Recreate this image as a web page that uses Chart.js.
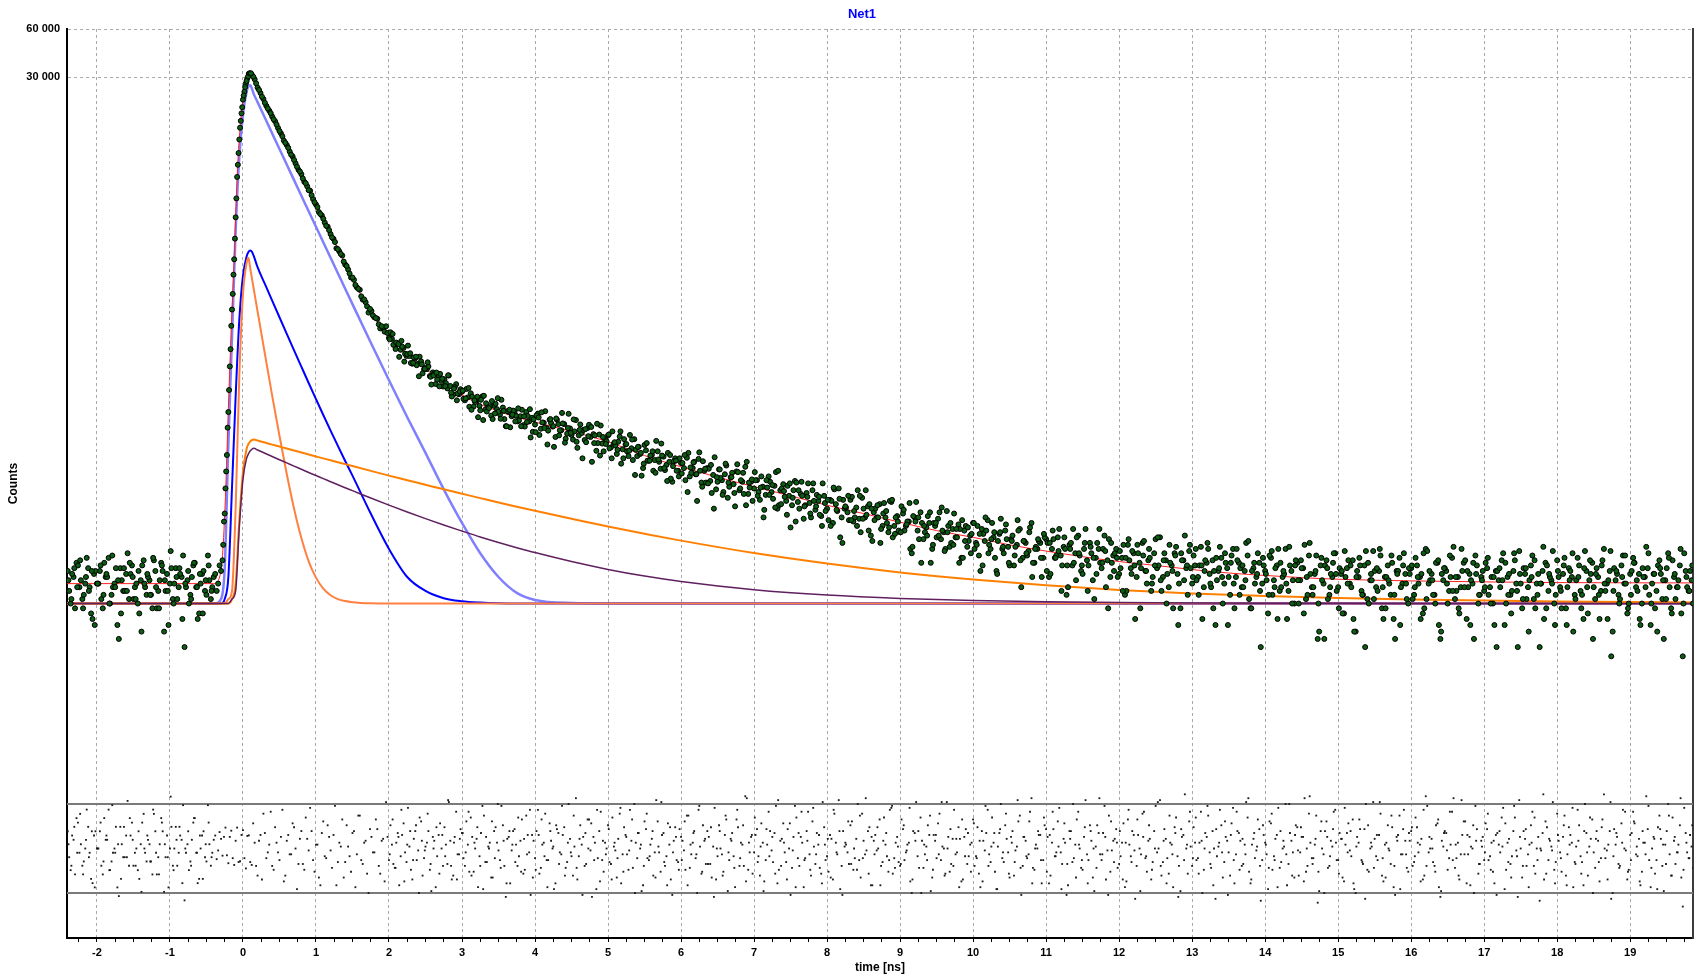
<!DOCTYPE html>
<html>
<head>
<meta charset="utf-8">
<script src="https://cdn.jsdelivr.net/npm/chart.js@4.4.1/dist/chart.umd.min.js"></script>
<style>
html,body{margin:0;padding:0;background:#fff;overflow:hidden}
canvas{display:block}
</style>
</head>
<body>
<canvas id="c" width="1706" height="975" style="width:1706px;height:975px"></canvas>
<script>
// ---------- texts ----------
const chartTitle = 'Net1';
const xAxisTitle = 'time [ns]';
const yAxisTitle = 'Counts';

// ---------- ticks ----------
const xTickValues = [-2,-1,0,1,2,3,4,5,6,7,8,9,10,11,12,13,14,15,16,17,18,19];
const xMinorStep = 0.25;
const yTickValues = [30000, 60000];
const yTickLabels = ['30 000', '60 000'];

// ---------- measured decay, channel set A ----------
const dataStep = 0.04;      // ns between channels of one set
const dataStartA = -2.40;
const dataCountsA = [
24,15,22,27,19,16,20,25,13,23,20,24,14,22,29,17,20,11,25,18,23,16,26,19,15,21,28,17,21,14,24,18,27,10,23,20,16,25,19,22,8,21,17,26,19,13,23,18,30,16,
22,18,26,28,79,238,826,2160,7090,14420,21640,27330,31420,31050,
29050,25770,23800,21840,19780,18460,16980,15840,14390,13300,11980,11240,10230,9530,8630,7870,7380,6610,6190,5810,5150,4760,4270,4070,3670,3460,3110,2900,2530,2420,2280,2000,1865,1660,1605,1440,1390,1207,1163,1000,1024,934,915,796,803,821,694,684,625,642,585,601,535,534,478,517,478,495,440,443,400,422,357,399,373,382,335,347,306,356,308,319,282,294,312,258,280,260,299,247,256,226,260,248,230,254,194,238,224,239,208,224,197,238,208,219,199,
233,187,204,189,213,193,166,200,183,200,174,188,160,212,170,176,159,189,166,173,136,172,151,161,170,
143,151,130,167,139,149,126,141,161,126,130,106,
137,118,128,119,135,105,125,111,116,87,122,102,
114,106,123,94,106,97,121,86,102,106,88,96,78,
104,89,97,69,93,84,101,77,87,108,73,87,79,
89,67,81,72,94,75,82,59,77,84,66,71,
62,88,65,73,51,74,64,77,58,66,53,71,59,
67,48,63,79,52,59,56,67,49,60,51,69,
52,61,40,56,52,63,46,52,42,65,46,53,42,
55,46,49,31,52,43,56,38,45,48,33,46,
51,38,42,57,34,44,39,47,29,43,34,40,48,
36,30,44,37,50,33,39,24,41,33,43,34,
38,26,35,44,29,36,32,48,27,33,36,29,38,
22,33,29,39,30,34,17,35,26,31,40,24,
33,28,36,21,29,33,25,40,28,22,30,33,23,
29,17,35,25,31,22,27,36,24,28,18,31,
25,39,22,28,19,26,31,23,14,28,25,32,20,
26,22,34,19,27,23,28,11,24,29,20,25,
17,33,22,27,19,24,30,14,25,22,27,20,24,
13,29,21,26,18,22,33,18,24,15,27,21,25,16,30,19,23,9,26,20,28,17,22,31,19,
23,13,25,20,28,10,22,18,26,16,21,32,19,24,14,22,26,17,12,24,29,20,23,15,25,
17,26,22,13,33,20,23,17,27,9,21,24,18,29,16,22,19,27,12,23,20,30,15,22,18,
25,19,15,24,21,28,11,22,17,24,20,32,14,23,19,26,16,20,8,24,27,18,21,15,28,
19,23,14,25,22,17,29,18,12,24,21,27,16,22,18,33,20,24,10,21,17,26,20,13,23,29,19,23,15,22,25,11,23,18,28,16,21,31,14,22,19,26,7,24,18,21
];
// ---------- channel set B ----------
const dataStartB = -2.38;
const dataCountsB = [
18,23,14,26,21,17,29,19,12,24,20,16,27,22,15,19,25,9,21,18,31,23,16,20,13,26,19,22,17,28,14,21,24,18,11,25,20,16,23,30,19,15,22,27,12,20,24,17,21,
19,23,20,24,49,128,460,1310,3960,10010,17750,24250,29450,31580,
30180,27390,24900,22560,20680,19050,17800,16300,15110,13760,12750,11600,10790,9770,9060,8220,7660,6940,6470,5860,5450,4920,4590,4150,3880,3500,3290,2960,2770,2500,2330,2090,1960,1760,1660,1490,1410,1265,1210,1095,1055,960,925,845,822,760,745,
753,628,649,528,612,552,621,483,523,468,529,416,450,460,354,415,380,413,344,361,403,298,341,311,331,
288,332,257,297,275,221,284,301,240,259,215,268,239,284,215,241,191,243,226,211,246,193,225,165,214,
227,171,205,241,182,203,144,213,183,202,162,232,171,180,142,199,184,154,198,116,170,152,196,135,156,
141,180,147,155,113,161,135,171,119,138,144,95,148,118,127,102,157,116,127,103,132,91,117,102,122,
114,89,132,99,116,66,102,117,86,105,74,124,87,92,75,110,81,99,61,100,89,73,116,80,66,
89,75,94,58,80,87,68,100,62,79,70,82,45,77,86,59,71,62,85,52,66,72,54,85,57,
50,66,78,57,39,67,60,50,70,52,77,42,59,54,63,37,59,52,44,64,48,66,39,52,43,
61,43,49,33,53,65,38,48,42,53,27,48,39,56,43,33,46,36,55,39,44,29,46,37,41,
33,46,24,41,43,35,48,29,37,51,31,38,26,40,34,43,19,37,30,45,27,34,37,22,39,
36,23,38,30,44,26,33,19,36,27,39,30,23,44,26,31,16,36,27,33,19,38,27,31,22,
25,35,18,28,32,12,31,25,37,20,29,22,38,26,18,31,23,27,14,34,20,28,40,17,25,
30,21,26,12,28,33,19,24,21,34,15,27,22,30,14,28,25,19,36,16,24,20,31,8,26,
21,30,17,25,33,19,23,12,26,21,28,15,25,35,17,23,19,30,10,21,26,16,23,31,18,
25,13,22,28,19,10,24,26,17,32,15,21,24,18,30,12,22,20,27,9,24,19,31,16,23,
16,29,20,23,14,32,21,17,27,11,23,25,15,22,34,18,13,24,28,19,21,9,26,17,24,
27,17,22,11,24,19,31,15,23,18,28,8,20,25,16,21,30,14,23,20,12,26,22,32,17,
22,14,29,19,24,10,21,26,17,32,13,23,19,25,12,28,18,21,7,25,23,16,30,20,15,24,27,18,11,22,34,17,20,14,26,23,9,25,19,28,16,21,13,31,19,24,15
];
// ---------- channel set C (tail, from 2.01 ns) ----------
const dataStartC = 2.01;
const dataCountsC = [
680,735,591,635,665,493,549,556,484,529,399,474,444,488,396,404,421,345,385,346,405,315,334,282,320,
324,290,337,246,282,297,244,212,270,252,279,233,291,216,242,194,246,229,208,251,194,224,206,248,179,
178,220,237,189,149,215,194,217,170,235,153,189,176,214,155,184,122,186,168,192,152,201,127,166,150,
172,122,154,138,180,122,150,136,160,96,144,132,113,152,118,135,99,120,151,106,88,128,109,118,94,
98,128,75,107,115,97,133,81,105,85,111,59,93,104,72,113,86,93,74,112,79,99,62,86,90,
100,71,80,52,89,72,83,60,102,63,76,54,85,69,49,77,87,61,70,55,85,61,70,46,64,
67,46,80,58,68,36,61,71,50,57,46,71,51,77,43,59,50,62,36,55,57,45,67,41,49,
42,58,47,64,34,49,52,27,46,40,56,35,48,40,60,32,42,48,35,44,27,50,37,45,31,
48,35,41,26,52,31,38,42,23,42,34,47,27,37,30,50,28,37,31,42,22,33,38,29,41,
24,36,43,29,32,18,39,26,33,44,21,31,26,36,18,34,29,23,44,27,32,14,36,24,29,
32,18,29,38,23,26,35,14,30,24,33,20,26,39,21,28,15,35,24,30,11,31,21,26,35,
22,33,17,26,24,36,20,14,29,25,22,31,11,27,20,33,17,26,21,37,14,27,23,18,29,
23,17,32,19,12,27,24,20,34,15,26,21,28,13,22,36,17,24,15,29,9,25,19,27,23,
14,24,32,20,26,12,22,29,17,8,27,23,16,25,33,19,14,21,30,17,23,11,26,20,25,
26,19,22,12,31,16,24,21,15,28,10,25,20,30,18,22,14,33,19,24,11,27,23,17,21,
19,29,15,22,8,25,21,27,17,13,31,18,23,16,25,10,22,28,17,20,34,14,23,20,11,
24,18,26,11,21,31,16,22,14,25,19,28,9,23,17,26,20,12,32,18,24,15,22,30,14,
17,27,21,12,25,19,31,15,23,10,25,21,16,29,13,23,19,33,15,22,18,26
];
// ---------- channel set D (before the pulse) ----------
const dataStartD = -2.39;
const dataCountsD = [21,16,25,19,28,14,22,18,24,11,20,26,17,23,15,30,19,21,13,25,18,27,22,16,24,10,20,23,17,29,19,14,26,21,18,32,15,22,25,12,20,24,16,27,19,23,13,21,26,18];
// extra channels read along the steep rise
const riseExtraTimes = [-0.27,-0.25,-0.23,-0.21,-0.19,-0.17,-0.15,-0.13,-0.11,-0.09,-0.07,-0.05,-0.03,-0.01,0.01,0.03,0.05,0.07,0.09,0.11];
const riseExtraCounts = [35,55,101,190,327,590,1045,1730,2910,5200,8450,12170,15930,19400,22960,25930,28330,30220,31650,31620];

// ---------- weighted residuals (one per channel of sets A, B, C, D) ----------
const residualsA = [
0.89,-1.12,0.45,1.57,-0.22,-0.89,0,1.12,-1.57,0.67,0,0.89,-1.34,0.45,2.01,-0.67,0,-2.01,1.12,-0.45,0.67,-0.89,1.34,-0.22,-1.12,0.22,1.79,-0.67,0.22,-1.34,0.89,-0.45,1.57,-2.24,0.67,0,-0.89,1.12,-0.22,0.45,-2.68,0.22,-0.67,1.34,-0.22,-1.57,0.67,-0.45,2.24,-0.89,
0.45,-0.55,0.85,-0.37,1.08,-0.76,0.92,-0.85,1.08,-0.66,0.95,-1.03,0.68,-0.85,
0.3,-1.4,0.7,1.8,-0.5,0.2,-0.9,1.1,-0.2,0.6,-1.7,0.4,-0.3,1.3,0.0,-0.8,0.9,-1.1,0.5,2.1,-0.6,0.2,-1.5,0.8,-0.4,1.2,-0.1,0.7,-1.9,0.3,1.5,-0.7,0.1,-1.2,0.9,-0.3,1.7,-0.8,0.4,-2.3,0.6,-0.2,1.0,-1.3,0.5,2.4,-0.6,0.2,-1.0,0.8,-0.4,1.3,-0.7,0.1,-1.6,0.9,-0.1,1.4,-0.5,0.3,-1.1,0.6,-2.0,0.7,0.0,1.1,-0.8,0.4,-1.4,1.9,-0.3,0.8,-0.9,0.2,1.6,-1.2,0.5,-0.4,2.2,-0.7,0.1,-1.5,0.9,0.3,-0.6,1.2,-2.5,0.6,-0.1,1.0,-0.9,0.4,-1.3,1.7,-0.2,0.7,-0.5,
2.0,-1.0,0.3,-0.6,1.3,0.0,-1.8,0.8,-0.3,1.1,-0.7,0.5,-1.4,2.6,-0.4,0.2,-0.9,1.5,-0.1,0.6,-2.1,0.9,-0.6,0.3,1.2,
-0.8,0.1,-1.5,1.8,-0.3,0.7,-1.1,0.4,2.3,-0.5,0.0,-1.9,
1.0,-0.6,0.5,-0.2,1.4,-1.2,0.8,-0.4,0.2,-2.4,1.1,-0.7,
0.6,-0.1,1.7,-1.0,0.3,-0.5,2.0,-1.3,0.4,0.9,-0.8,0.1,-1.6,
1.2,-0.3,0.7,-2.2,0.5,-0.4,1.5,-0.9,0.2,2.7,-1.1,0.6,-0.2,
1.0,-1.4,0.3,-0.6,1.9,-0.1,0.8,-1.8,0.4,1.3,-0.7,0.0,
-1.0,2.2,-0.5,0.6,-2.0,0.9,-0.3,1.4,-0.8,0.2,-1.3,1.1,-0.4,
0.7,-1.6,0.3,2.5,-0.9,0.1,-0.2,1.2,-1.1,0.5,-0.6,1.8,
-0.3,0.9,-1.9,0.4,-0.1,1.5,-0.7,0.2,-1.2,2.1,-0.5,0.6,-0.9,
1.0,-0.2,0.3,-2.3,0.8,-0.4,1.6,-1.0,0.1,0.7,-1.5,0.4,
1.3,-0.6,0.0,2.4,-1.2,0.5,-0.3,1.1,-1.7,0.6,-0.8,0.2,1.5,
-0.4,-1.3,0.9,-0.1,2.0,-0.7,0.3,-2.1,0.8,-0.5,1.2,-0.2,
0.6,-1.4,0.1,1.7,-0.9,0.4,-0.3,2.6,-1.1,0.0,0.7,-0.6,1.0,
-1.8,0.3,-0.4,1.4,-0.2,0.5,-2.4,0.9,-0.7,0.2,1.9,-1.0,
0.6,-0.3,1.2,-1.5,0.1,0.8,-0.6,2.2,-0.1,-1.2,0.4,1.0,-0.8,
0.3,-2.0,1.5,-0.4,0.7,-0.9,0.0,1.8,-0.5,0.4,-1.6,0.9,
-0.2,2.5,-0.7,0.5,-1.3,0.2,1.1,-0.4,-2.2,0.7,0.0,1.4,-0.9,
0.3,-0.5,1.9,-1.1,0.6,-0.2,0.9,-2.6,0.1,1.2,-0.7,0.4,
-1.4,2.1,-0.3,0.8,-0.9,0.2,1.6,-1.8,0.5,-0.1,1.0,-0.6,0.3,
-2.1,1.3,-0.4,0.7,-1.0,0.0,2.3,-0.8,0.4,-1.5,1.1,-0.2,0.6,-1.2,1.8,-0.5,0.2,-2.8,0.9,-0.3,1.4,-0.9,0.1,2.0,-0.6,
0.5,-1.7,0.8,-0.1,1.5,-2.3,0.3,-0.6,1.0,-1.1,0.0,2.4,-0.4,0.7,-1.4,0.2,1.2,-0.8,-2.0,0.6,1.7,-0.3,0.4,-1.2,0.9,
-0.7,1.1,0.2,-1.6,2.7,-0.2,0.5,-0.9,1.3,-2.5,0.1,0.8,-0.5,1.9,-1.0,0.3,-0.3,1.4,-1.8,0.6,0.0,2.2,-1.3,0.4,-0.6,
1.0,-0.4,-1.2,0.7,0.2,1.6,-2.1,0.3,-0.8,0.9,-0.1,2.5,-1.5,0.5,-0.3,1.2,-0.9,0.0,-2.7,0.8,1.4,-0.6,0.1,-1.1,1.8,
-0.2,0.6,-1.4,1.1,0.3,-0.7,2.0,-0.4,-1.9,0.8,0.1,1.5,-1.0,0.4,-0.5,2.8,-0.1,0.9,-2.3,0.2,-0.8,1.3,0.0,-1.6,0.7,1.9,-0.3,0.5,-1.2,0.3,1.0,-2.0,0.6,-0.6,1.7,-0.9,0.2,2.3,-1.4,0.4,-0.2,1.2,-3.0,0.8,-0.5,0.1
];
const residualsB = [
-0.45,0.67,-1.34,1.34,0.22,-0.67,2.01,-0.22,-1.79,0.89,0,-0.89,1.57,0.45,-1.12,-0.22,1.12,-2.46,0.22,-0.45,2.46,0.67,-0.89,0,-1.57,1.34,-0.22,0.45,-0.67,1.79,-1.34,0.22,0.89,-0.45,-2.01,1.12,0,-0.89,0.67,2.24,-0.22,-1.12,0.45,1.57,-1.79,0,0.89,-0.67,0.22,
-0.22,0.67,-0.1,0.5,0.6,-0.35,0.6,-0.5,0.4,-0.7,0.7,-0.5,0.65,-0.7,
1.3,-0.9,0.4,-1.6,0.8,-0.2,1.9,-1.1,0.3,-0.6,2.0,-1.4,0.7,-0.3,1.1,-2.1,0.5,-0.8,1.6,-0.1,0.9,-1.2,0.2,-1.9,1.4,-0.5,0.6,-1.0,2.2,-0.7,0.1,-1.5,1.2,-0.4,0.8,-2.0,1.7,-0.6,0.3,-1.3,1.0,-0.2,1.5,-0.9,0.4,-1.7,0.6,
1.2,-0.8,0.3,-1.9,0.7,-0.2,2.1,-1.1,0.5,-0.6,1.6,-1.4,0.1,0.9,-2.2,0.4,-0.4,1.3,-0.9,0.2,2.4,-1.6,0.6,-0.3,1.0,
-0.5,1.4,-1.2,0.6,0.0,-2.0,0.8,1.7,-0.7,0.3,-1.5,1.1,-0.1,2.2,-0.9,0.5,-1.8,0.9,0.2,-0.4,1.5,-1.1,0.7,-2.4,0.4,
0.9,-1.3,0.2,1.8,-0.6,0.4,-2.1,1.0,-0.2,0.7,-1.0,2.3,-0.4,0.1,-1.6,1.2,0.6,-0.8,1.5,-2.5,0.3,-0.5,1.9,-1.2,0.0,
-0.7,1.6,-0.1,0.5,-1.8,1.1,-0.3,2.0,-1.0,0.3,0.8,-2.2,1.4,-0.5,0.2,-1.4,2.5,-0.2,0.7,-0.9,1.3,-1.6,0.4,-0.6,1.0,
0.4,-1.1,1.7,-0.3,0.9,-2.3,0.1,1.2,-0.8,0.6,-1.5,2.1,-0.4,0.0,-1.2,1.5,-0.6,0.8,-2.0,1.1,0.3,-0.9,2.6,-0.2,-1.3,
0.7,-0.4,1.3,-1.7,0.2,0.9,-0.7,2.2,-1.1,0.5,-0.2,1.0,-2.4,0.6,1.6,-0.9,0.3,-0.5,1.9,-1.4,0.1,0.8,-1.0,2.4,-0.6,
-1.2,0.5,1.8,-0.3,-2.1,0.9,0.2,-0.8,1.4,-0.5,2.3,-1.5,0.4,-0.1,1.1,-1.9,0.7,0.0,-0.9,1.6,-0.4,2.0,-1.3,0.3,-0.7,
1.5,-0.6,0.2,-1.7,0.9,2.4,-1.0,0.4,-0.3,1.2,-2.2,0.7,-0.5,1.8,0.1,-1.3,0.6,-0.8,2.0,-0.2,0.5,-1.6,1.0,-0.4,0.3,
-0.9,1.1,-2.0,0.4,0.8,-0.3,1.6,-1.2,0.1,2.3,-0.7,0.5,-1.5,0.9,-0.1,1.4,-2.4,0.6,-0.5,1.9,-1.0,0.2,0.7,-1.8,1.2,
0.6,-1.4,1.0,-0.2,2.1,-0.8,0.3,-1.9,0.9,-0.5,1.5,0.0,-1.1,2.5,-0.6,0.4,-2.2,1.2,-0.3,0.8,-1.6,1.7,-0.1,0.5,-1.0,
-0.4,1.3,-1.7,0.2,0.9,-2.6,0.7,-0.3,1.9,-1.2,0.5,-0.7,2.2,0.0,-1.4,1.0,-0.5,0.3,-2.0,1.6,-0.9,0.6,2.8,-1.3,0.1,
1.1,-0.6,0.3,-2.3,0.8,1.7,-1.0,0.0,-0.4,2.0,-1.5,0.6,-0.2,1.3,-1.8,0.9,0.4,-0.8,2.4,-1.2,0.2,-0.5,1.5,-2.7,0.7,
-0.3,1.4,-1.1,0.5,2.1,-0.7,0.1,-1.9,0.8,-0.2,1.2,-1.4,0.6,2.6,-0.9,0.3,-0.5,1.7,-2.2,0.0,0.9,-1.0,0.4,1.9,-0.6,
0.8,-1.5,0.2,1.3,-0.4,-2.1,0.6,1.0,-0.8,2.3,-1.2,0.1,0.5,-0.6,1.8,-1.7,0.3,-0.1,1.1,-2.4,0.7,-0.3,2.0,-1.0,0.4,
-0.9,1.6,-0.2,0.5,-1.4,2.2,0.0,-0.7,1.2,-2.0,0.4,0.9,-1.1,0.2,2.6,-0.5,-1.6,0.7,1.4,-0.3,0.1,-2.3,1.0,-0.8,0.6,
1.3,-0.6,0.3,-1.8,0.8,-0.2,2.1,-1.1,0.5,-0.4,1.6,-2.5,0.0,0.9,-0.9,0.2,1.9,-1.3,0.6,-0.1,-1.6,1.1,0.4,2.4,-0.7,
0.4,-1.2,1.7,-0.3,0.7,-2.0,0.1,1.2,-0.7,2.3,-1.4,0.5,-0.2,0.9,-1.7,1.5,-0.5,0.2,-2.6,1.0,0.6,-0.9,2.0,-0.1,-1.1,0.8,1.3,-0.4,-1.9,0.3,2.7,-0.6,0.0,-1.3,1.1,0.5,-2.2,0.9,-0.3,1.6,-0.8,0.2,-1.5,2.1,-0.2,0.7,-1.0
];
const residualsC = [
-0.3,1.5,-1.0,0.6,2.0,-1.7,0.2,0.9,-0.6,1.2,-2.3,0.4,-0.1,1.8,-0.8,0.0,1.1,-1.3,0.7,-0.4,2.5,-0.9,0.3,-1.6,0.5,
0.8,-0.2,1.9,-1.4,0.3,1.1,-0.9,-2.1,0.6,0.0,1.4,-0.5,2.3,-1.0,0.4,-1.8,0.9,0.2,-0.7,1.6,-1.2,0.5,-0.3,2.0,-1.5,
-1.1,0.7,1.5,-0.4,-2.0,0.9,0.1,1.2,-0.8,2.2,-1.4,0.3,-0.2,1.7,-1.0,0.5,-2.4,0.8,0.0,1.3,-0.6,2.0,-1.7,0.4,-0.3,
1.0,-1.6,0.3,-0.5,2.1,-1.2,0.6,-0.1,1.5,-2.3,0.8,0.2,-0.9,1.8,-0.4,0.9,-1.5,0.1,2.4,-0.7,-1.9,1.1,-0.2,0.6,-1.1,
-0.6,1.4,-1.9,0.2,0.8,-0.3,2.2,-1.2,0.5,-0.8,1.1,-2.5,0.0,0.9,-1.4,1.7,-0.2,0.4,-1.0,2.0,-0.5,1.2,-1.7,0.3,0.7,
1.6,-0.7,0.1,-2.2,1.0,-0.4,0.6,-1.3,2.5,-0.9,0.3,-1.6,1.3,-0.1,-2.0,0.8,1.9,-0.6,0.4,-1.1,2.1,-0.3,0.7,-1.8,0.2,
0.5,-1.5,2.0,-0.2,0.9,-2.4,0.3,1.4,-0.8,0.0,-1.1,1.7,-0.5,2.6,-1.3,0.6,-0.3,1.1,-1.9,0.4,0.8,-0.6,2.2,-1.0,0.1,
-0.8,1.2,-0.1,2.1,-1.6,0.4,0.9,-2.3,0.2,-0.6,1.7,-1.1,0.7,-0.3,2.4,-1.4,0.0,1.0,-0.9,0.5,-2.0,1.5,-0.4,0.8,-1.2,
1.3,-0.5,0.4,-1.7,2.2,-0.9,0.1,0.8,-2.1,1.0,-0.2,1.8,-1.3,0.3,-0.7,2.5,-1.0,0.6,-0.4,1.4,-1.8,0.0,0.9,-0.6,1.6,
-1.2,0.7,1.9,-0.4,0.1,-2.1,1.3,-0.8,0.5,2.3,-1.5,0.2,-0.6,1.1,-1.8,0.9,0.0,-1.0,2.6,-0.3,0.6,-2.4,1.4,-0.7,0.3,
0.9,-1.6,0.3,2.0,-0.7,-0.1,1.5,-2.2,0.6,-0.4,1.2,-1.1,0.0,2.4,-0.9,0.4,-1.8,1.7,-0.3,0.8,-2.5,1.0,-0.6,0.2,1.9,
-0.5,1.6,-1.3,0.4,0.0,2.2,-0.8,-1.9,1.0,0.3,-0.2,1.4,-2.4,0.7,-0.6,1.9,-1.1,0.5,-0.3,2.6,-1.6,0.8,0.1,-0.9,1.2,
0.2,-1.0,1.8,-0.6,-2.0,0.9,0.4,-0.3,2.3,-1.4,0.7,-0.1,1.1,-1.7,0.0,2.7,-0.8,0.5,-1.2,1.4,-2.3,0.6,-0.4,1.0,0.3,
-1.3,0.5,2.1,-0.2,0.9,-1.8,0.1,1.5,-0.7,-2.6,1.2,0.3,-1.0,0.7,2.4,-0.5,-1.5,0.0,1.7,-0.9,0.4,-2.1,1.0,-0.3,0.8,
1.1,-0.4,0.3,-1.7,2.0,-0.9,0.6,0.0,-1.2,1.5,-2.2,0.8,-0.1,1.9,-0.6,0.2,-1.4,2.5,-0.3,0.7,-1.9,1.2,0.4,-0.8,0.1,
-0.2,1.8,-1.1,0.4,-2.4,0.9,0.1,1.3,-0.7,-1.5,2.2,-0.4,0.6,-0.9,1.0,-2.0,0.3,1.6,-0.6,0.0,2.8,-1.3,0.5,-0.1,-1.8,
0.7,-0.5,1.2,-1.9,0.2,2.1,-0.8,0.4,-1.3,0.9,-0.2,1.6,-2.3,0.5,-0.7,1.1,0.0,-1.6,2.4,-0.4,0.8,-1.0,0.3,1.9,-1.2,
-0.6,1.4,0.1,-1.7,0.9,-0.3,2.2,-1.0,0.5,-2.1,1.0,0.2,-0.8,1.7,-1.4,0.6,-0.2,2.6,-1.1,0.3,-0.5,1.2
];
const residualsD = [0.22,-0.89,1.12,-0.22,1.79,-1.34,0.45,-0.45,0.89,-2.01,0,1.34,-0.67,0.67,-1.12,2.24,-0.22,0.22,-1.57,1.12,-0.45,1.57,0.45,-0.89,0.89,-2.24,0,0.67,-0.67,2.01,-0.22,-1.34,1.34,0.22,-0.45,2.68,-1.12,0.45,1.12,-1.79,0,0.89,-0.89,1.57,-0.22,0.67,-1.57,0.22,1.34,-0.45];
const residualLimits = [2.3, -2.3];

// ---------- total fit (red) ----------
const fitTimes = [-2.41,-0.40,-0.32,-0.28,-0.24,-0.20,-0.16,-0.12,-0.08,-0.04,0.00,0.04,0.08,0.10,0.12,0.16,0.20,0.30,0.40,0.50,0.60,0.70,0.80,0.90,1.00,1.10,1.20,1.30,1.40,1.50,1.60,1.70,1.80,1.90,2.00,2.20,2.40,2.60,2.80,3.00,3.20,3.40,3.60,3.80,4.00,4.50,5.00,5.50,6.00,6.50,7.00,7.50,8.00,8.50,9.00,9.50,10.00,10.50,11.00,11.50,12.00,12.50,13.00,13.50,14.00,14.50,15.00,16.00,17.00,18.00,19.86];
const fitCounts = [20,20,22,30,70,250,800,2200,7000,14500,21500,27500,31300,31700,31200,29000,26000,20600,17100,13800,11200,9000,7300,5900,4750,3850,3120,2520,2030,1640,1330,1110,940,810,710,570,480,410,350,305,272,250,232,218,206,180,155,127,108,93,81,71,62,55,48.5,43,39,35,32,29.5,27.5,26,24.5,23.3,22.5,21.8,21.3,20.8,20.5,20.3,20.2];

// ---------- decay components ----------
const compTimes = [-2.41,-0.4,-0.3,-0.25,-0.2,-0.15,-0.1,-0.05,0,0.05,0.075,0.1,0.125,0.15,0.2,0.3,0.4,0.5,0.6,0.7,0.8,0.9,1.0,1.1,1.2,1.3,1.4,1.5,1.75,2.0,2.25,2.5,2.75,3.0,3.25,3.5,3.75,4.0,4.5,5,5.5,6,7,8,9,10,11,12,13,14,15,16,17,18,19,19.86];
const compLightBlue = [15,15,16,25,150,700,3300,9500,17500,24300,26300,26600,25200,23340,20880,16655,13295,10620,8475,6773,5405,4322,3455,2760,2207,1766,1412,1130,650,377,221,132,78,48,31,22,17.5,15.8,15.1,15,15,15,15,15,15,15,15,15,15,15,15,15,15,15,15,15];
const compBlue = [15,15,15,16,22,80,300,900,1700,2250,2400,2455,2400,2250,1927,1513,1189,935,736,580,458,362,287,228,182,146,117.5,95,55,33,22,18,16.2,15.5,15.2,15.05,15,15,15,15,15,15,15,15,15,15,15,15,15,15,15,15,15,15,15,15];
const compOrangeFast = [15,15,15,15,16,18,60,400,1300,2050,2205,1890,1617,1386,1017,552,302,169,97.3,59,38.6,27.6,21.8,18.6,16.9,16.0,15.55,15.3,15.05,15,15,15,15,15,15,15,15,15,15,15,15,15,15,15,15,15,15,15,15,15,15,15,15,15,15,15];
const compOrangeSlow = [15,15,15,15,15,16,20,50,100,140,150,156,159,160,157.7,153.2,148.8,144.6,140.5,136.6,132.7,129,125.4,121.9,118.6,115.3,112.2,109.1,101.8,95.1,89,83.3,78,73.2,68.7,64.5,60.7,57.2,51,45.6,41.1,37.2,31.1,26.7,23.5,21.2,19.5,18.25,17.36,16.7,16.24,15.9,15.65,15.47,15.34,15.25];
const compPurple = [15,15,15,15,15,16,18,45,90,122,130,136,139.5,141,137.7,131.3,125.3,119.6,114.2,109,104.2,99.5,95.2,91,87.1,83.3,79.8,76.5,68.8,62.1,56.2,51.1,46.6,42.7,39.2,36.2,33.6,31.3,27.5,24.55,22.3,20.6,18.3,16.94,16.14,15.67,15.4,15.23,15.13,15.08,15.05,15.03,15.02,15.01,15,15];

// ---------- build ----------
const X_MIN = -2.41, X_MAX = 19.86;
const pairs = (xs, ys) => xs.map((x, i) => ({x: x, y: ys[i]}));
const channels = (start, vals) => vals.map((v, i) => ({x: Math.round((start + i * dataStep) * 1000) / 1000, y: v}));

const dataPoints = channels(dataStartA, dataCountsA)
  .concat(channels(dataStartB, dataCountsB))
  .concat(channels(dataStartC, dataCountsC))
  .concat(channels(dataStartD, dataCountsD))
  .concat(pairs(riseExtraTimes, riseExtraCounts));
const residualPoints = channels(dataStartA, residualsA)
  .concat(channels(dataStartB, residualsB))
  .concat(channels(dataStartC, residualsC))
  .concat(channels(dataStartD, residualsD));

const minorTicks = [];
for (let k = Math.ceil(X_MIN / xMinorStep); k * xMinorStep <= X_MAX; k++) minorTicks.push(k * xMinorStep);
const isMajor = v => xTickValues.some(t => Math.abs(t - v) < 1e-6);

const FONT = '"Liberation Sans", Arial, Helvetica, sans-serif';
const GRID = '#a9a9a9';

const lineDs = (label, xs, ys, color, width, order) => ({
  label, data: pairs(xs, ys), yAxisID: 'y', showLine: true, borderColor: color,
  backgroundColor: color, borderWidth: width, pointRadius: 0, order,
  cubicInterpolationMode: 'monotone', fill: false
});

const titlePlugin = {
  id: 'netTitle',
  afterDraw(chart) {
    const c = chart.ctx;
    c.save();
    c.font = 'bold 13px ' + FONT;
    c.fillStyle = '#0000ff';
    c.textAlign = 'center';
    c.textBaseline = 'middle';
    c.fillText(chartTitle, 862, 14);
    c.restore();
  }
};

new Chart(document.getElementById('c').getContext('2d'), {
  type: 'scatter',
  data: {
    datasets: [
      {label: 'Data', data: dataPoints, yAxisID: 'y', showLine: false, pointRadius: 2.5,
       pointBackgroundColor: '#0b5e12', pointBorderColor: '#000000', pointBorderWidth: 1, order: 0},
      lineDs('Fit', fitTimes, fitCounts, '#ff2020', 1, 1),
      lineDs('Component 5', compTimes, compPurple, '#602060', 1.5, 2),
      lineDs('Component 4', compTimes, compOrangeSlow, '#ff8000', 2, 3),
      lineDs('Component 3', compTimes, compOrangeFast, '#ff8040', 2, 4),
      lineDs('Component 2', compTimes, compBlue, '#0000ff', 2, 5),
      lineDs('Component 1', compTimes, compLightBlue, '#8080ff', 2.5, 6),
      {label: 'Residuals', data: residualPoints, yAxisID: 'yRes', showLine: false, pointStyle: 'rect',
       pointRadius: 1.3, pointBackgroundColor: '#1a1a1a', pointBorderWidth: 0, order: 7},
      {label: 'Upper', data: pairs([X_MIN, X_MAX], [residualLimits[0], residualLimits[0]]), yAxisID: 'yRes',
       showLine: true, borderColor: '#7a7a7a', borderWidth: 2, pointRadius: 0, order: 8},
      {label: 'Lower', data: pairs([X_MIN, X_MAX], [residualLimits[1], residualLimits[1]]), yAxisID: 'yRes',
       showLine: true, borderColor: '#7a7a7a', borderWidth: 2, pointRadius: 0, order: 9}
    ]
  },
  options: {
    responsive: false,
    animation: false,
    devicePixelRatio: 1,
    events: [],
    layout: {padding: {left: 0, right: 13, top: 29, bottom: 0}},
    plugins: {legend: {display: false}, tooltip: {enabled: false}, title: {display: false}},
    scales: {
      x: {
        type: 'linear', position: 'bottom', min: X_MIN, max: X_MAX,
        afterBuildTicks: s => { s.ticks = minorTicks.map(v => ({value: v})); },
        afterFit: s => { s.height = 37; },
        ticks: {
          autoSkip: false, maxRotation: 0, minRotation: 0, padding: 4, color: '#000',
          font: {family: FONT, size: 11, weight: 'bold'},
          callback: v => isMajor(v) ? String(Math.round(v)) : ''
        },
        grid: {
          color: c => (c.tick && isMajor(c.tick.value)) ? GRID : 'rgba(0,0,0,0)',
          lineWidth: 1, drawTicks: true, tickLength: 4, tickColor: '#000', tickWidth: 1
        },
        border: {display: true, color: '#000', width: 2, dash: [3, 3]},
        title: {display: true, text: xAxisTitle, color: '#000', font: {family: FONT, size: 12, weight: 'bold'},
                padding: {top: 0, bottom: 0}}
      },
      y: {
        type: 'logarithmic', position: 'left', min: 0.12, max: 60000,
        afterBuildTicks: s => { s.ticks = yTickValues.map(v => ({value: v})); },
        afterFit: s => { s.width = 67; },
        ticks: {
          padding: 7, color: '#000', font: {family: FONT, size: 11, weight: 'bold'},
          callback: (v, i) => yTickLabels[i]
        },
        grid: {color: GRID, lineWidth: 1, drawTicks: false},
        border: {display: true, color: '#000', width: 2, dash: [3, 3]},
        title: {display: true, text: yAxisTitle, color: '#000', font: {family: FONT, size: 12, weight: 'bold'},
                padding: {top: 6, bottom: 0}}
      },
      yRes: {
        type: 'linear', position: 'right', min: -4.625, max: 42.35,
        afterFit: s => { s.width = 0; },
        ticks: {display: false},
        grid: {display: false},
        border: {display: true, color: '#3c3c3c', width: 2}
      }
    }
  },
  plugins: [titlePlugin]
});
</script>
</body>
</html>
